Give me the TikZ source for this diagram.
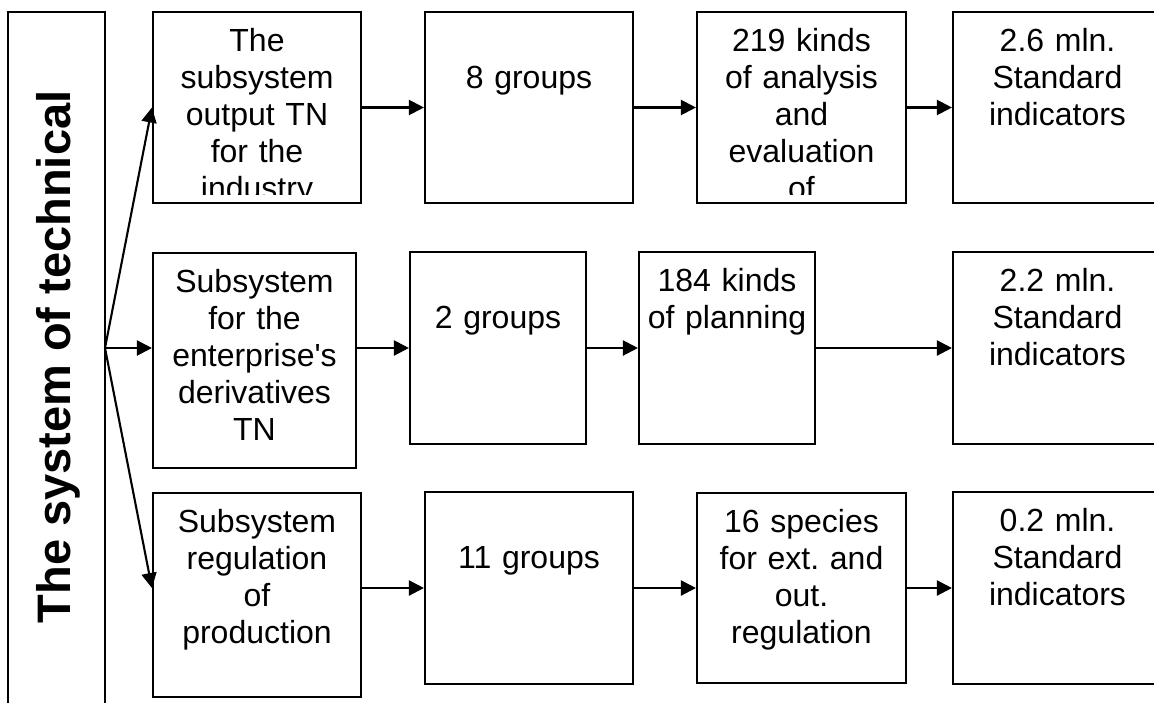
\documentclass[tikz,border=0pt]{standalone}
\usepackage{fontspec}
\setmainfont{Liberation Sans}
\frenchspacing
\usetikzlibrary{arrows.meta,fit}
\tikzset{
  boxsty/.style={draw, line width=2.1pt, inner sep=0pt},
  txt/.style={font=\fontsize{32}{37}\selectfont\frenchspacing, align=center, text width=200pt, inner sep=0pt,
    execute at begin node={\rule{0pt}{24pt}}},
  arr/.style={line width=2.1pt, -{Triangle[length=15pt,width=15pt]}},
}
\newcommand\mybox[6]{%
  \node[boxsty, fit={(#2,#3) (#4,#5)}] (#1) {};
  \begin{scope}
    \clip ([xshift=1pt,yshift=-1pt]#1.north west) rectangle ([xshift=-1pt,yshift=10pt]#1.south east);
    \node[txt, anchor=north] (#1t) at ([yshift=-16pt]#1.north) {#6};
  \end{scope}}
\begin{document}
\begin{tikzpicture}[x=1pt, y=-1pt]
\useasboundingbox (0,0) rectangle (1154,702);
\clip (0,0) rectangle (1154,702);
% left tall box
\node[boxsty, fit={(8,12) (105,720)}] (sys) {};
\node[font=\fontsize{47}{56}\selectfont\bfseries, rotate=90, anchor=base, inner sep=0pt] (title) at (70,357) {The system of technical};
% row 1
\mybox{r1a}{153}{12}{361}{203}{The\\subsystem\\output TN\\for the\\industry}
\mybox{r1b}{425}{12}{633}{203}{\\8 groups}
\mybox{r1c}{697}{12}{906}{203}{219 kinds\\of analysis\\and\\evaluation\\of}
\mybox{r1d}{953}{12}{1162}{203}{2.6 mln.\\Standard\\indicators}
% row 2
\mybox{r2a}{153}{253}{356}{468}{Subsystem\\for the\\enterprise\textquotesingle s\\derivatives\\TN}
\mybox{r2b}{410}{252}{586}{444}{\\2 groups}
\mybox{r2c}{639}{252}{815}{444}{184 kinds\\of planning}
\mybox{r2d}{953}{252}{1162}{444}{2.2 mln.\\Standard\\indicators}
% row 3
\mybox{r3a}{153}{493}{361}{697}{Subsystem\\regulation\\of\\production}
\mybox{r3b}{425}{492}{633}{684}{\\11 groups}
\mybox{r3c}{697}{493}{906}{683}{16 species\\for ext. and\\out.\\regulation}
\mybox{r3d}{953}{492}{1162}{684}{0.2 mln.\\Standard\\indicators}
% fan arrows
\coordinate (fan) at (105,348);
\draw[arr] (fan) -- (r1a.west);
\draw[arr] (fan) -- (r2a.west |- r2b.west);
\draw[arr] (fan) -- (r3a.west |- r3b.west);
% row arrows
\draw[arr] (r1a.east) -- (r1b.west);
\draw[arr] (r1b.east) -- (r1c.west);
\draw[arr] (r1c.east) -- (r1d.west);
\draw[arr] (r2a.east |- r2b.west) -- (r2b.west);
\draw[arr] (r2b.east) -- (r2c.west);
\draw[arr] (r2c.east) -- (r2d.west);
\draw[arr] (r3a.east |- r3b.west) -- (r3b.west);
\draw[arr] (r3b.east) -- (r3c.west);
\draw[arr] (r3c.east) -- (r3d.west);
\end{tikzpicture}
\end{document}
